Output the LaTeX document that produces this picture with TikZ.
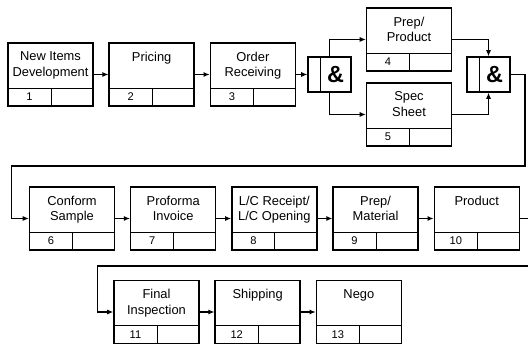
\documentclass[tikz,border=0pt]{standalone}
\usepackage{fontspec}
\setmainfont{Liberation Sans}
\usetikzlibrary{arrows.meta,positioning}

\begin{document}
\begin{tikzpicture}[x=0.03cm, y=-0.03cm,
  node distance=0.44cm,
  act/.style 2 args={draw, line width=1.3pt, minimum width=2.55cm, minimum height=1.89cm, inner sep=0pt,
    path picture={
      \draw[line width=0.8pt] ([yshift=0.54cm]path picture bounding box.south west) -- ([yshift=0.54cm]path picture bounding box.south east);
      \draw[line width=0.8pt] ([xshift=1.29cm]path picture bounding box.south west) -- ++(0,0.54cm);},
    label={[txt]90:#1}, label={[num]center:#2}},
  txt/.style={anchor=north, yshift=-0.16cm, align=center, font=\fontsize{11}{13.6}\selectfont},
  num/.style={xshift=-0.63cm, yshift=-0.675cm, font=\fontsize{9.5}{10}\selectfont},
  gate/.style={draw, line width=1.3pt, minimum width=1.29cm, minimum height=1.05cm, inner sep=0pt,
    path picture={\draw[line width=0.8pt] ([xshift=0.36cm]path picture bounding box.south west) -- ([xshift=0.36cm]path picture bounding box.north west);},
    label={[font=\fontsize{20}{20}\selectfont\bfseries, xshift=0.18cm]center:\&}},
  link/.style={-{Latex[length=1.8mm, width=1.5mm]}, line width=0.9pt}
]
\useasboundingbox (0,0) rectangle (528,347);
\node[act={New Items\\Development}{1}] (a1) at (50.5,74.5) {};
\node[act={Pricing}{2}, right=of a1] (a2) {};
\node[act={Order\\Receiving}{3}, right=of a2] (a3) {};
\node[gate] (g1) at (329.5,74.5) {};
\node[act={Prep/\\Product}{4}] (a4) at (409,39.5) {};
\node[act={Spec\\Sheet}{5}] (a5) at (409,114.5) {};
\node[gate] (g2) at (488.5,74.5) {};
\node[act={Conform\\Sample}{6}] (a6) at (72,218.5) {};
\node[act={Proforma\\Invoice}{7}, right=of a6] (a7) {};
\node[act={L/C Receipt/\\L/C Opening}{8}, right=of a7] (a8) {};
\node[act={Prep/\\Material}{9}, right=of a8] (a9) {};
\node[act={Product}{10}, right=of a9] (a10) {};
\node[act={Final\\Inspection}{11}] (a11) at (156.5,312) {};
\node[act={Shipping}{12}, right=of a11] (a12) {};
\node[act={Nego}{13}, right=of a12] (a13) {};
\coordinate (r1) at (525,166);
\coordinate (e2) at (528,218.5);
\coordinate (e3) at (528,266);
\draw[link] (a1) -- (a2);
\draw[link] (a2) -- (a3);
\draw[link] (a3) -- (g1);
\draw[link] (g1.north) |- (a4.west);
\draw[link] (g1.south) |- (a5.west);
\draw[link] (a4.east) -| (g2.north);
\draw[link] (a5.east) -| (g2.south);
\draw[link] (g2.east) -| (r1) -| ([xshift=-0.51cm]a6.west) -- (a6.west);
\draw[link] (a6) -- (a7);
\draw[link] (a7) -- (a8);
\draw[link] (a8) -- (a9);
\draw[link] (a9) -- (a10);
\draw[line width=0.9pt] (a10) -- (e2);
\draw[link] (e3) -| ([xshift=-0.48cm]a11.west) -- (a11.west);
\draw[link] (a11) -- (a12);
\draw[link] (a12) -- (a13);
\end{tikzpicture}
\end{document}
